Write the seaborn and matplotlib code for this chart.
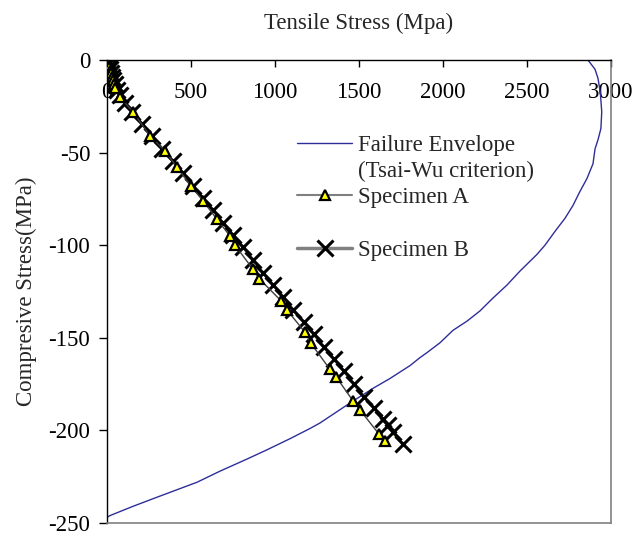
import numpy as np
import pandas as pd
import matplotlib
matplotlib.use("Agg")
import matplotlib.pyplot as plt
from matplotlib.lines import Line2D
import seaborn as sns

sns.set_theme(style="white")
plt.rcParams['font.family'] = ['Liberation Serif', 'DejaVu Serif']
plt.rcParams['axes.unicode_minus'] = False

# failure envelope (Tsai-Wu)
env_x = [2863, 2905, 2923, 2937, 2945, 2940, 2923, 2905, 2893, 2857, 2815, 2774,
         2726, 2667, 2607, 2559, 2458, 2381, 2298, 2220, 2143, 2059, 1982, 1905,
         1863, 1804, 1684, 1589, 1450, 1268, 1208, 1089, 952, 833, 673, 536, 315,
         155, 18, 0]
env_y = [0, -5, -10, -18, -28, -37, -43, -48, -56, -64, -71, -78.5,
         -85.5, -92.5, -100, -105, -114, -121.5, -128.5, -135.5, -141, -146, -152.7,
         -158, -160.7, -165, -172, -177, -185, -196, -199, -204.5, -210.5, -215.5,
         -222, -228, -235.5, -241, -246, -247]

# specimen A (triangles)
a_x = [0, 3, 6, 10, 14, 18, 22, 28, 34, 40, 48, 77, 155, 256, 345, 417, 500, 571,
       655, 732, 762, 869, 905, 1036, 1071, 1179, 1214, 1327, 1363, 1464, 1506,
       1619, 1655]
a_y = [0, -1, -2, -3, -4, -6, -7, -9, -11, -13, -15, -20, -28, -41, -49, -58, -68,
       -76, -86, -95, -100, -113, -118, -130, -135, -147, -153, -167, -171, -184,
       -189, -202, -206]

# specimen B (crosses)
b_x = [0, 4, 8, 12, 17, 22, 28, 35, 45, 60, 80, 107, 150, 210, 270, 330, 390, 450,
       510, 570, 630, 690, 750, 810, 870, 930, 990, 1050, 1110, 1170, 1230, 1290,
       1350, 1410, 1470, 1530, 1590, 1640, 1670, 1700, 1760]
b_y = [0, -1, -2, -4, -5, -7, -9, -11, -13, -16, -19, -23, -28, -34.5, -41, -48,
       -54.5, -61, -68, -74.5, -81, -88, -94.5, -101, -108, -115, -121.5, -128,
       -135, -141.5, -148, -155, -161.5, -168, -175, -182, -188, -194, -197, -201,
       -207.5]

fig = plt.figure(figsize=(6.43, 5.36), dpi=100)
ax = fig.add_axes([0.1664, 0.0243, 0.7838, 0.8637])

sns.lineplot(x=env_x, y=env_y, sort=False, estimator=None, color='#2e2e9a',
             linewidth=1.0, ax=ax, zorder=2)
sns.lineplot(x=b_x, y=b_y, sort=False, estimator=None, color='#808080',
             linewidth=2, marker='x', markersize=11, markeredgewidth=2.2,
             markeredgecolor='black', ax=ax, zorder=3)
sns.lineplot(x=a_x, y=a_y, sort=False, estimator=None, color='#404040',
             linewidth=1, marker='^', markersize=6.5, markerfacecolor='#ffff00',
             markeredgecolor='black', markeredgewidth=1.6, ax=ax, zorder=4)

ax.set_xlim(0, 3000)
ax.set_ylim(-250, 0)
ax.set_xticks(range(0, 3001, 500))
ax.set_yticks(range(-250, 1, 50))

ax.xaxis.tick_top()
ax.xaxis.set_label_position('top')
ax.tick_params(axis='x', direction='in', length=5, width=1, pad=-31,
               labelsize=16.5, colors='black')
ax.tick_params(axis='y', direction='out', length=6, width=1, pad=6,
               labelsize=16.5, colors='black', left=True)
ax.set_xlabel('Tensile Stress (Mpa)', fontsize=16.5, labelpad=22)
ax.set_ylabel('Compresive Stress(MPa)', fontsize=16.5, labelpad=8)

for s in ['left', 'top']:
    ax.spines[s].set_color('black')
    ax.spines[s].set_linewidth(1)
for s in ['right', 'bottom']:
    ax.spines[s].set_color('#808080')
    ax.spines[s].set_linewidth(1.2)

blank = Line2D([], [], linestyle='none')
h_env = Line2D([], [], color='#2e2e9a', linewidth=1.0)
h_a = Line2D([], [], color='#808080', linewidth=1.5, marker='^', markersize=6.5,
             markerfacecolor='#ffff00', markeredgecolor='black', markeredgewidth=1.6)
h_b = Line2D([], [], color='#808080', linewidth=2.5, marker='x', markersize=11,
             markeredgewidth=2.2, markeredgecolor='black')
fig.legend([h_env, blank, h_a, blank, h_b],
           ['Failure Envelope', '(Tsai-Wu criterion)', 'Specimen A', '', 'Specimen B'],
           loc='upper left', bbox_to_anchor=(0.462, 0.748), frameon=False,
           fontsize=16.5, handlelength=2.4, handletextpad=0.26, labelspacing=0.22,
           borderpad=0, borderaxespad=0)

fig.savefig('out.png', dpi=100)
